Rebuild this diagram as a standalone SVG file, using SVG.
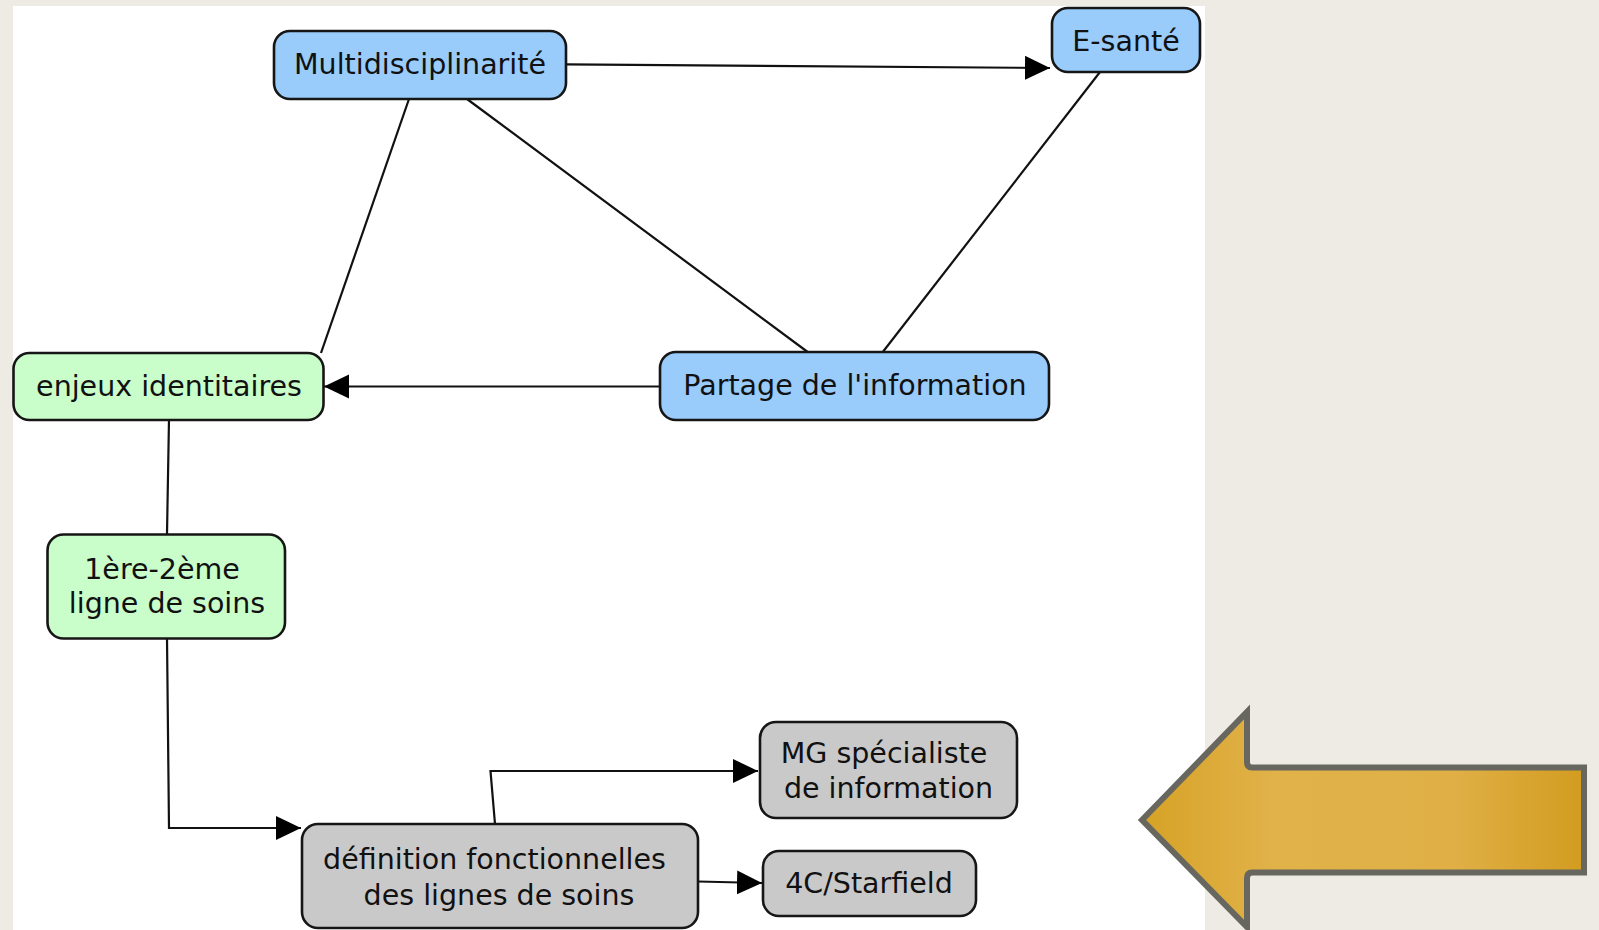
<svg xmlns="http://www.w3.org/2000/svg" width="1599" height="930" viewBox="0 0 1599 930">
  <defs>
    <style>
      .node rect { stroke: #161616; stroke-width: 2.6; }
      .blue rect { fill: #99CBFB; }
      .green rect { fill: #C9FDC9; }
      .gray rect { fill: #C9C9C9; }
      .node text { font-family: "DejaVu Sans", Verdana, sans-serif; font-size: 28.5px; fill: #111; text-anchor: middle; }
      .link { fill: none; stroke: #111; stroke-width: 2.2; }
      .arrow { marker-end: url(#head); }
    </style>
    <marker id="head" markerUnits="userSpaceOnUse" markerWidth="26" markerHeight="26" refX="25" refY="12" orient="auto">
      <path d="M0,0 L25,12 L0,24 Z" fill="#000"/>
    </marker>
    <linearGradient id="gold" gradientUnits="userSpaceOnUse" x1="1142" y1="0" x2="1584" y2="0">
      <stop offset="0" stop-color="#D6A226"/>
      <stop offset="0.3" stop-color="#E1B24A"/>
      <stop offset="0.7" stop-color="#E0B047"/>
      <stop offset="1" stop-color="#D29C1F"/>
    </linearGradient>
  </defs>

  <!-- page background and white panel -->
  <rect x="0" y="0" width="1599" height="930" fill="#EEEBE4"/>
  <rect x="13" y="6" width="1192" height="924" fill="#FFFFFF"/>

  <!-- connectors -->
  <g id="connectors">
    <path class="link arrow" d="M566,64.3 L1050,68"/>
    <path class="link" d="M409,99 L321,353"/>
    <path class="link" d="M467,99 L809,353"/>
    <path class="link" d="M1100,72 L882,353"/>
    <path class="link arrow" d="M660,386.5 L324,386.5"/>
    <path class="link" d="M169,419 L167,534"/>
    <path class="link arrow" d="M167,638 L169,828 L301,828"/>
    <path class="link arrow" d="M495,824 L490.5,771 L758,771"/>
    <path class="link arrow" d="M698,881.5 L762,883"/>
  </g>

  <!-- nodes -->
  <g id="multidisciplinarite" class="node blue">
    <rect x="274" y="31" width="292" height="68" rx="16"/>
    <text x="420" y="74">Multidisciplinarité</text>
  </g>
  <g id="esante" class="node blue">
    <rect x="1052" y="8" width="148" height="64" rx="16"/>
    <text x="1126" y="51">E-santé</text>
  </g>
  <g id="enjeux" class="node green">
    <rect x="13.5" y="353" width="310" height="67" rx="16"/>
    <text x="169" y="396">enjeux identitaires</text>
  </g>
  <g id="partage" class="node blue">
    <rect x="660" y="352" width="389" height="68" rx="16"/>
    <text x="855" y="395">Partage de l'information</text>
  </g>
  <g id="lignes" class="node green">
    <rect x="47.5" y="534.5" width="237.5" height="104" rx="16"/>
    <text x="162" y="579">1ère-2ème</text>
    <text x="167" y="613">ligne de soins</text>
  </g>
  <g id="definition" class="node gray">
    <rect x="302" y="824" width="396" height="104" rx="16"/>
    <text x="494.5" y="869">définition fonctionnelles</text>
    <text x="499" y="905">des lignes de soins</text>
  </g>
  <g id="mg" class="node gray">
    <rect x="760" y="722" width="257" height="96" rx="16"/>
    <text x="884" y="763">MG spécialiste</text>
    <text x="888.5" y="798">de information</text>
  </g>
  <g id="starfield" class="node gray">
    <rect x="763" y="851" width="213" height="65" rx="16"/>
    <text x="869" y="893">4C/Starfield</text>
  </g>

  <!-- large pointing arrow on the right -->
  <g id="pointer">
    <path d="M1142,820 L1247,712 L1247,762 Q1247,767.5 1252,767.5 L1584,767.5 L1584,872.5 L1252,872.5 Q1247,872.5 1247,878 L1247,927 Z" fill="url(#gold)" stroke="#67675F" stroke-width="6" stroke-linejoin="miter"/>
  </g>
</svg>
